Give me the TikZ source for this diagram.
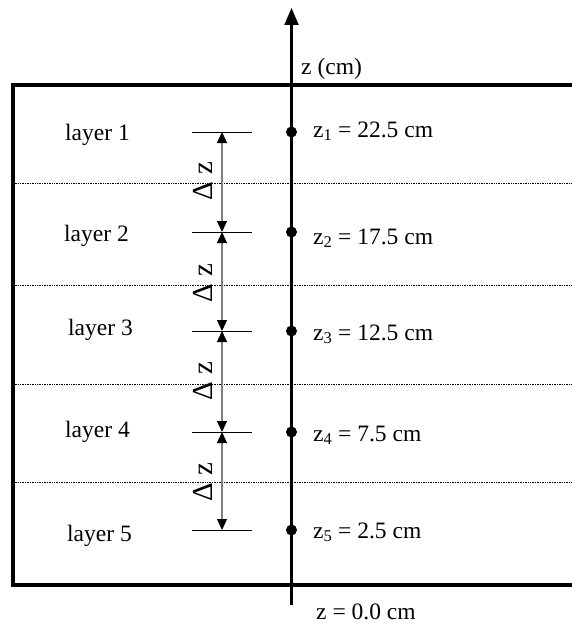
\documentclass[tikz,border=0pt]{standalone}
\usepackage{fontspec}
\setmainfont{Liberation Serif}
\usetikzlibrary{arrows.meta}
\begin{document}
\begin{tikzpicture}[x=1pt,y=-1pt,
  lbl/.style={font=\fontsize{23.5}{26}\selectfont, inner sep=0pt},
  dz/.style={font=\fontsize{29}{31}\selectfont, inner sep=0pt, rotate=90},
  tick/.style={line width=1pt},
  dim/.style={draw=gray, line width=1.3pt, {Triangle[length=11pt,width=10pt,color=black]}-{Triangle[length=11pt,width=10pt,color=black]}},
  sep/.style={densely dotted, line width=0.7pt},
  pt/.style={circle, fill=black, inner sep=0pt, minimum size=11pt}]
\useasboundingbox (0,0) rectangle (571,623);
% box (open to the right edge)
\draw[line width=4pt] (573,85) -- (13,85) -- (13,585) -- (573,585);
% dotted layer separators
\foreach \y in {183,285,384,482} \draw[sep] (13,\y) -- (571,\y);
% axis
\coordinate (zb) at (291.5,605);
\coordinate (zt) at (291.5,8);
\draw[line width=2.2pt, -{Triangle[length=17pt,width=14pt]}] (zb) -- (zt);
\node[lbl, anchor=base west] (zcm) at (301,75) {z (cm)};
\node[lbl, anchor=base west] (z0) at (316,619) {z = 0.0 cm};
% layers
\foreach \i/\y/\val/\lx/\lb/\zb in {1/132/22.5/65/140/137,2/232/17.5/64/241/244,3/331/12.5/68/335/340,4/432/7.5/65/437/441,5/530/2.5/67/541/538}{
  \node[pt] (p\i) at (291.5,\y) {};
  \coordinate (ta\i) at (192,\y);
  \coordinate (tb\i) at (252,\y);
  \coordinate (d\i) at (222,\y);
  \draw[tick] (ta\i) -- (tb\i);
  \node[lbl, anchor=base west] (L\i) at (\lx,\lb) {layer \i};
  \node[lbl, anchor=base west] (Z\i) at (313,\zb) {z\textsubscript{\i} = \val\ cm};
}
\foreach \a/\b/\y in {1/2/181,2/3/283,3/4/381,4/5/482}{
  \draw[dim] (d\a) -- (d\b);
  \node[dz, anchor=base] (dz\a) at (212,\y) {Δ z};
}
\end{tikzpicture}
\end{document}
